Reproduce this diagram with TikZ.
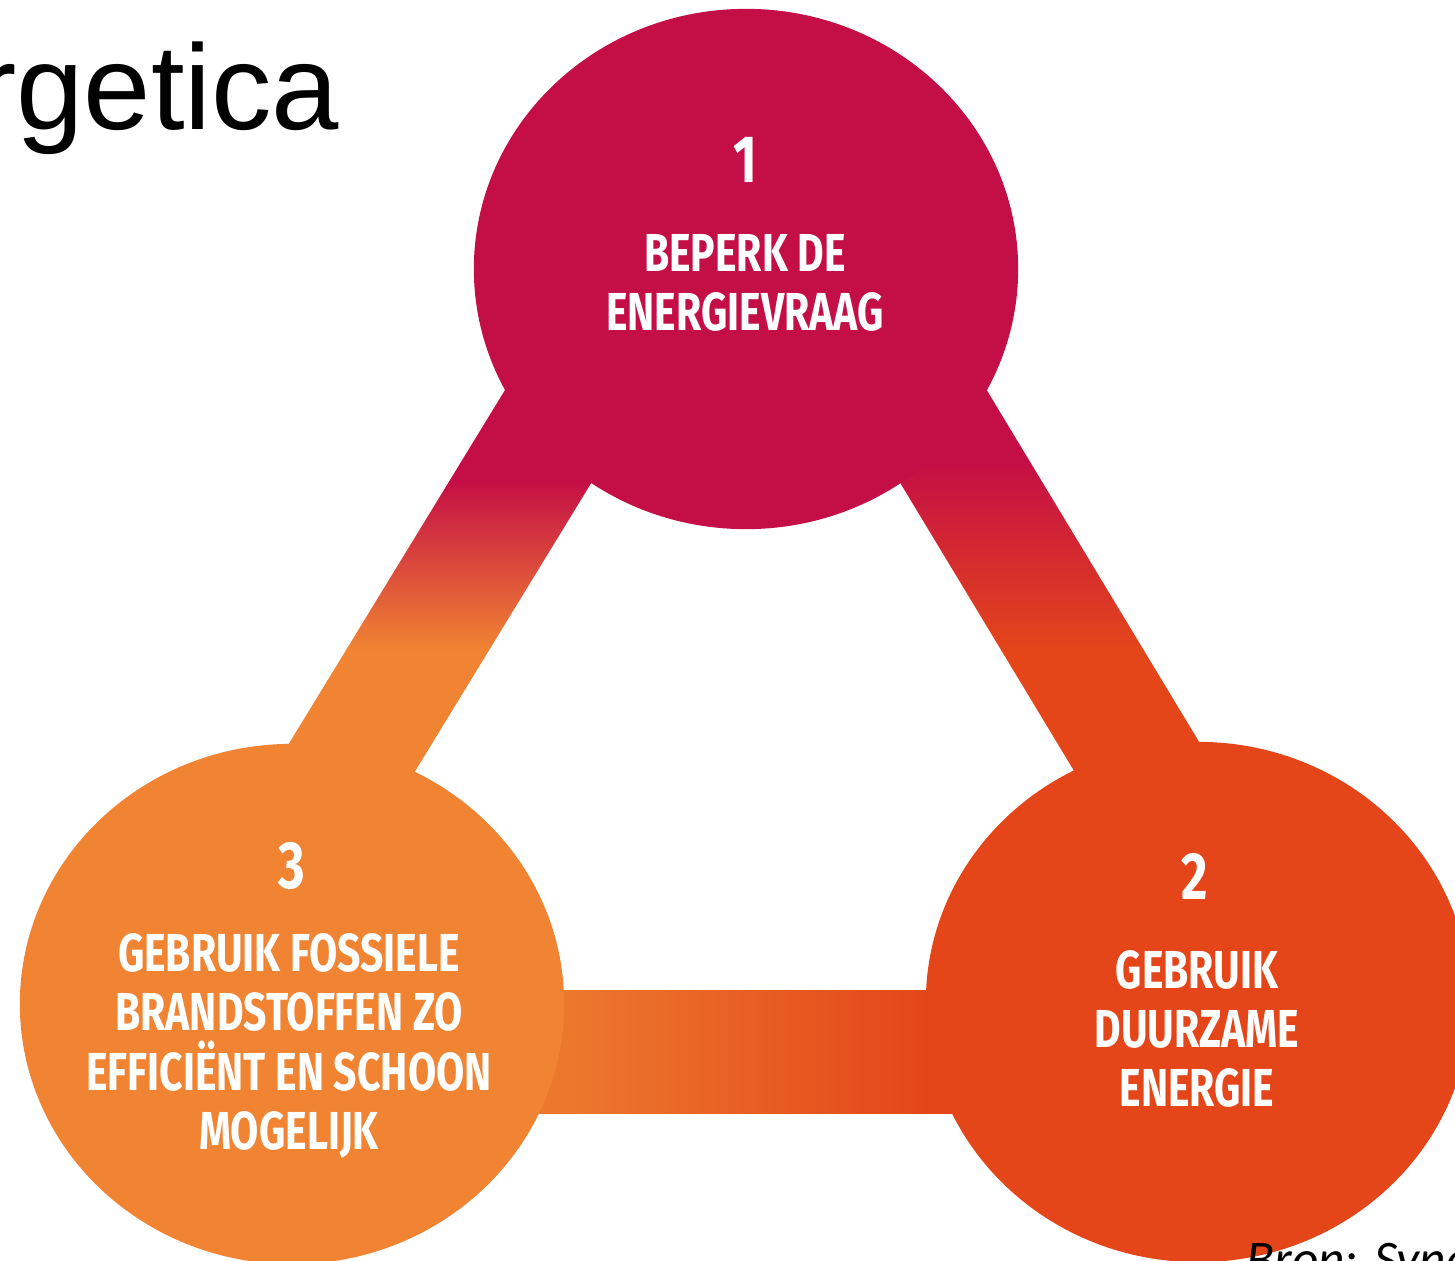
\documentclass[tikz,border=0pt]{standalone}
\usepackage{fontspec}
\setmainfont{Liberation Sans}
\newfontfamily\stepfont[FakeStretch=0.765]{Fira Sans}
\newfontfamily\bronfont{Carlito}
\usetikzlibrary{calc,shapes.geometric}

\definecolor{trcrimson}{RGB}{196,14,70}
\definecolor{trorange}{RGB}{240,132,50}
\definecolor{trbandorange}{RGB}{236,120,45}
\definecolor{trred}{RGB}{228,70,26}

\tikzset{
  pillar/.style={ellipse,inner sep=0pt,minimum width=5.44cm,minimum height=5.2cm},
  steptext/.style={text=white,inner sep=0pt,align=center,
    font=\stepfont\bfseries\fontsize{15.2}{16.8}\selectfont},
  stepnum/.style={text=white,inner sep=0pt,
    font=\stepfont\bfseries\fontsize{19}{19}\selectfont},
}

\begin{document}
\begin{tikzpicture}[x=0.01cm,y=-0.01cm]
			\fill[white] (0,0) rectangle (1455,1261);
			\useasboundingbox (0,0) rectangle (1455,1261);
			
			% band corners
			\coordinate (t1) at (747,111);
			\coordinate (t2) at (1315,1052);
			\coordinate (t3) at (172,1052);
			
			% band 1-3
			\begin{scope}
				\clip ($(t1)!0.61cm!90:(t3)$) -- ($(t3)!0.61cm!-90:(t1)$) -- ($(t3)!0.61cm!90:(t1)$) -- ($(t1)!0.61cm!-90:(t3)$) -- cycle;
				\fill[trcrimson] (0,0) rectangle (800,480);
				\shade[top color=trcrimson,bottom color=trorange] (0,480) rectangle (800,650);
				\fill[trorange] (0,650) rectangle (800,1200);
			\end{scope}
			% band 1-2
			\begin{scope}
				\clip ($(t1)!0.61cm!90:(t2)$) -- ($(t2)!0.61cm!-90:(t1)$) -- ($(t2)!0.61cm!90:(t1)$) -- ($(t1)!0.61cm!-90:(t2)$) -- cycle;
				\fill[trcrimson] (700,0) rectangle (1455,460);
				\shade[top color=trcrimson,bottom color=trred] (700,460) rectangle (1455,650);
				\fill[trred] (700,650) rectangle (1455,1200);
			\end{scope}
			% band 3-2
			\begin{scope}
				\clip ($(t3)!0.61cm!90:(t2)$) -- ($(t2)!0.61cm!-90:(t3)$) -- ($(t2)!0.61cm!90:(t3)$) -- ($(t3)!0.61cm!-90:(t2)$) -- cycle;
				\fill[trbandorange] (100,900) rectangle (565,1200);
				\shade[left color=trbandorange,right color=trred] (565,900) rectangle (926,1200);
				\fill[trred] (926,900) rectangle (1400,1200);
			\end{scope}
			
			\node[pillar,fill=trcrimson] (c1) at (746,269) {};
			\node[pillar,fill=trred] (c2) at (1198,1002) {};
			\node[pillar,fill=trorange] (c3) at (292,1004) {};
			
			\node[stepnum] (n1) at (745,160) {1};
			\node[steptext] (l1) at (745,283) {BEPERK DE\\ENERGIEVRAAG};
			\node[stepnum] (n2) at (1195,876) {2};
			\node[steptext] (l2) at (1197,1029) {GEBRUIK\\DUURZAME\\ENERGIE};
			\node[stepnum] (n3) at (292,866) {3};
			\node[steptext] (l3) at (289,1046) {GEBRUIK FOSSIELE\\BRANDSTOFFEN ZO\\EFFICIËNT EN SCHOON\\MOGELIJK};
			
			\node[anchor=base east,inner sep=0pt,font=\fontsize{34.4}{40}\selectfont] (title) at (340,130) {rgetica};
			\node[anchor=base west,inner sep=0pt,font=\bronfont\itshape\fontsize{14.6}{17}\selectfont] (bron) at (1246,1276) {Bron: Syne};
		\end{tikzpicture}
\end{document}
